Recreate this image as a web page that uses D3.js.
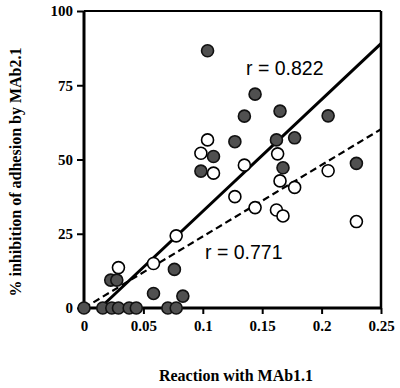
<!DOCTYPE html>
<html>
<head>
<meta charset="utf-8">
<style>
  body { margin: 0; background: #fff; }
  svg { display: block; }
  .tick text { font-family: "Liberation Serif", "Times New Roman", serif; font-weight: bold; font-size: 15px; }
</style>
</head>
<body>
<svg id="chart" width="400" height="388"></svg>
<script src="https://cdn.jsdelivr.net/npm/d3@7"></script>
<script>
// filled circles (grey) : [reaction with MAb1.1, % inhibition]
let filledX = [0, 0.0158, 0.0234, 0.029, 0.038, 0.044, 0.0706, 0.0776, 0.0225, 0.0276, 0.0585, 0.0761, 0.0832,
               0.104, 0.144, 0.135, 0.165, 0.127, 0.162, 0.109, 0.0984, 0.1675, 0.2055, 0.1773, 0.2293]
let filledY = [0, 0, 0, 0, 0, 0, 0, 0, 9.4, 9.4, 4.9, 13, 4.0,
               86.6, 72, 64.6, 66.3, 56, 56.6, 51, 46.1, 47.2, 64.7, 57.3, 48.7]

// open circles
let openX = [0.029, 0.0585, 0.0776, 0.104, 0.0984, 0.109, 0.135, 0.163, 0.165, 0.127, 0.144, 0.162, 0.1675, 0.2055, 0.1773, 0.2293]
let openY = [13.6, 15.0, 24.3, 56.6, 52.1, 45.4, 48.1, 51.9, 42.8, 37.5, 33.8, 33.0, 31, 46.2, 40.6, 29.1]

// regression lines (end points)
let fitSolid = [[0.0135, 0], [0.25, 89]]
let fitDashed = [[0, 0], [0.25, 60.2]]

let xTicks = [0, 0.05, 0.1, 0.15, 0.2, 0.25]
let yTicks = [0, 25, 50, 75, 100]
let xTickLabels = ["0", "0.05", "0.1", "0.15", "0.2", "0.25"]

let svg = d3.select("#chart")

let x = d3.scaleLinear().domain([0, 0.25]).range([84, 381])
let y = d3.scaleLinear().domain([0, 100]).range([308, 11])

// frame (top and right thinner)
svg.append("line").attr("x1", x(0)).attr("x2", x(0.25)).attr("y1", y(100)).attr("y2", y(100))
   .attr("stroke", "black").attr("stroke-width", 2)
svg.append("line").attr("x1", x(0.25)).attr("x2", x(0.25)).attr("y1", y(100)).attr("y2", y(0))
   .attr("stroke", "black").attr("stroke-width", 2.5)

// axes
let yAxis = svg.append("g").attr("transform", "translate(" + x(0) + ",0)")
  .call(d3.axisLeft(y).tickValues(yTicks).tickSize(7).tickPadding(4).tickFormat(d3.format("d")))
let xAxis = svg.append("g").attr("transform", "translate(0," + y(0) + ")")
  .call(d3.axisBottom(x).tickValues(xTicks).tickSize(6).tickPadding(6).tickFormat((d, i) => xTickLabels[i]))

for (let g of [xAxis, yAxis]) {
  g.select(".domain").attr("stroke-width", 3)
  g.selectAll(".tick line").attr("stroke-width", 2)
  g.selectAll(".tick text").attr("fill", "black")
}
xAxis.select(".domain").attr("d", "M" + x(0) + ",0H" + x(0.25))
yAxis.select(".domain").attr("d", "M0," + y(0) + "V" + y(100))

// regression lines
let line = d3.line().x(d => x(d[0])).y(d => y(d[1]))
svg.append("path").attr("d", line(fitSolid)).attr("stroke", "black").attr("stroke-width", 3).attr("fill", "none")
svg.append("path").attr("d", line(fitDashed)).attr("stroke", "black").attr("stroke-width", 2.2)
   .attr("stroke-dasharray", "7,4").attr("fill", "none")

// points
svg.append("g").selectAll("circle").data(openX).enter().append("circle")
  .attr("cx", d => x(d)).attr("cy", (d, i) => y(openY[i])).attr("r", 6)
  .attr("fill", "white").attr("stroke", "black").attr("stroke-width", 1.6)

svg.append("g").selectAll("circle").data(filledX).enter().append("circle")
  .attr("cx", d => x(d)).attr("cy", (d, i) => y(filledY[i])).attr("r", 6)
  .attr("fill", "#505050").attr("stroke", "#111").attr("stroke-width", 1.6)

// r labels
svg.append("text").attr("x", 246).attr("y", 75).text("r = 0.822")
  .attr("font-family", "Liberation Sans, Arial, sans-serif").attr("font-size", 19.5)
svg.append("text").attr("x", 205).attr("y", 258.5).text("r = 0.771")
  .attr("font-family", "Liberation Sans, Arial, sans-serif").attr("font-size", 19.5)

// axis titles
svg.append("text").attr("x", 236).attr("y", 381).attr("text-anchor", "middle")
  .attr("font-family", "Liberation Serif, Times New Roman, serif").attr("font-weight", "bold").attr("font-size", 16)
  .text("Reaction with MAb1.1")
svg.append("text").attr("transform", "translate(21,172) rotate(-90)").attr("text-anchor", "middle")
  .attr("font-family", "Liberation Serif, Times New Roman, serif").attr("font-weight", "bold").attr("font-size", 16)
  .text("% inhibition of adhesion by MAb2.1")
</script>
</body>
</html>
